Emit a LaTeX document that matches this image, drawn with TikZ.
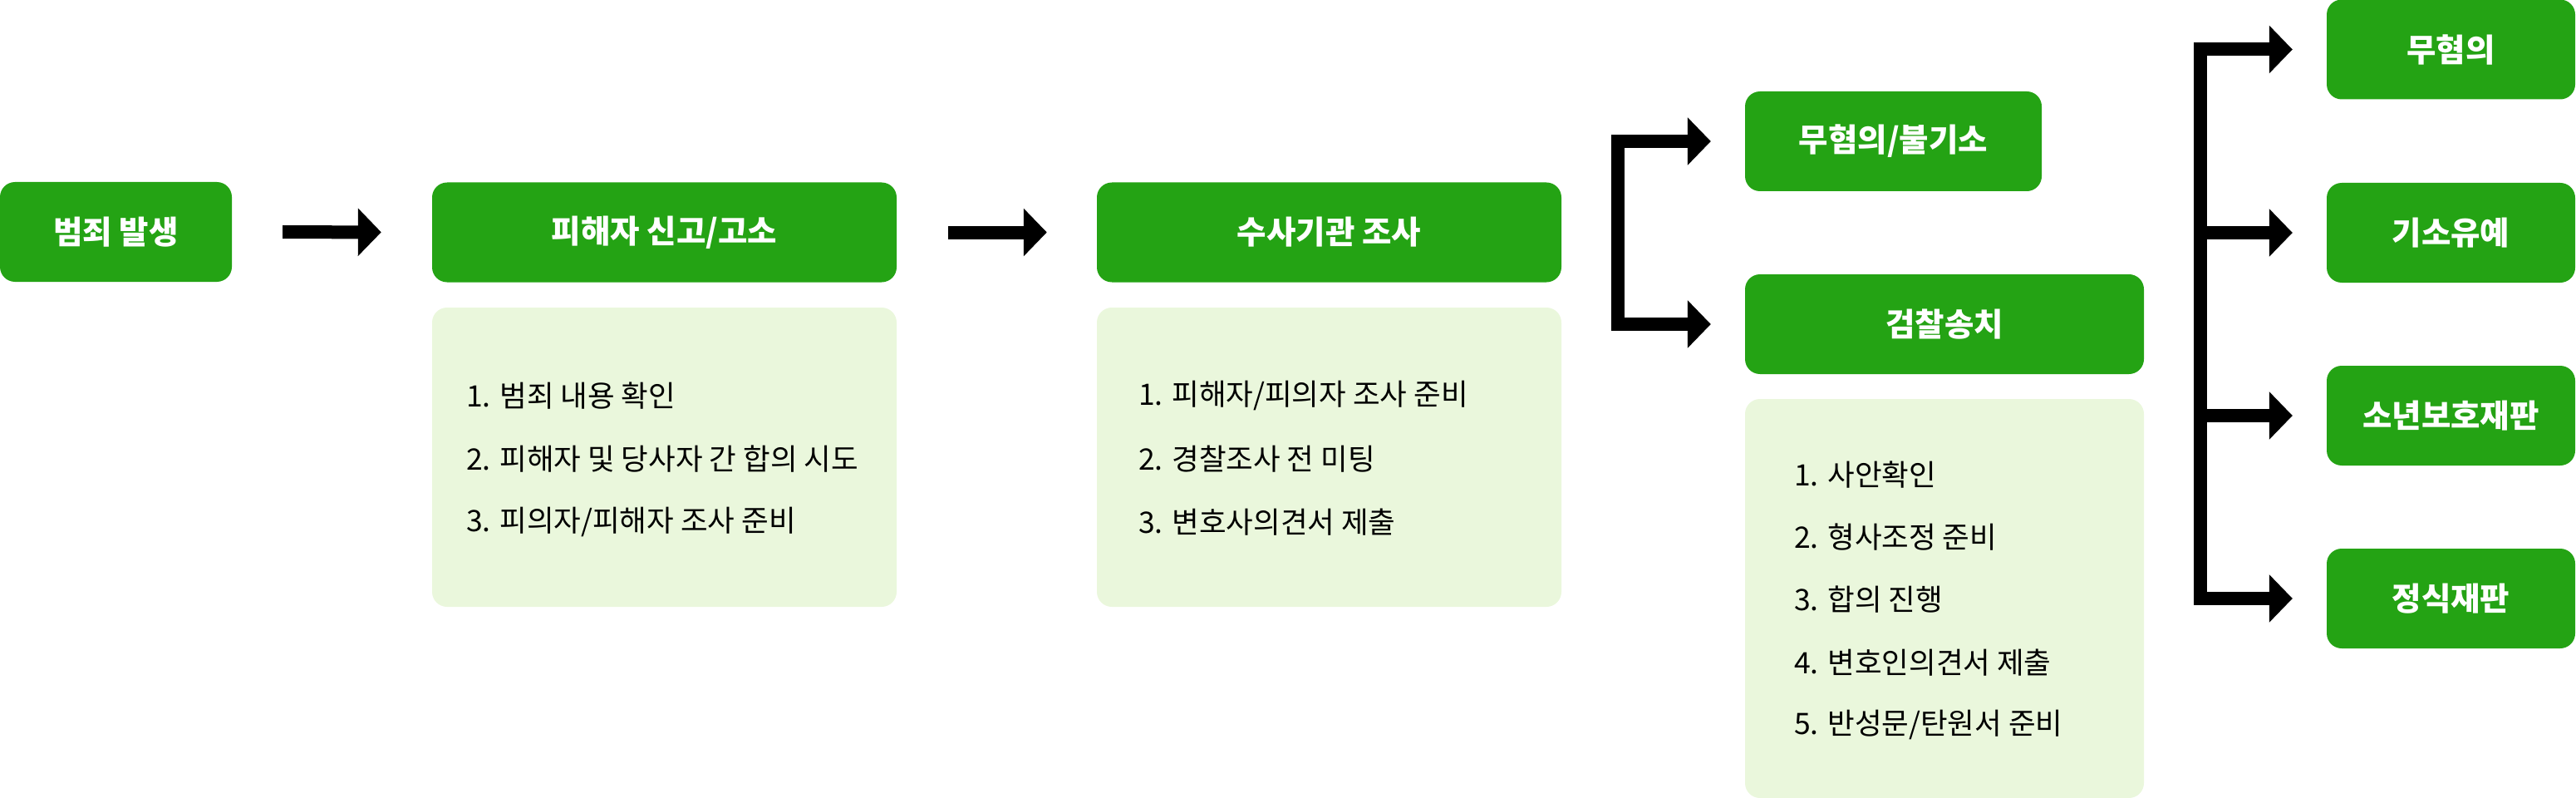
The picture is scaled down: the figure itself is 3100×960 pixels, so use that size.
\documentclass[tikz,border=0pt]{standalone}
\usepackage{fontspec}
\setmainfont{Noto Sans CJK KR}
\usetikzlibrary{arrows.meta}
\definecolor{boxgreen}{HTML}{24A314}
\definecolor{lightgreen}{HTML}{EAF7DC}
\tikzset{
  title/.style={fill=boxgreen, rounded corners=18pt, text=white, font=\fontsize{38.5}{42}\selectfont\bfseries, minimum height=120pt, inner sep=0pt, anchor=center},
  panel/.style={fill=lightgreen, rounded corners=18pt, inner sep=0pt},
  item/.style={anchor=west, inner sep=0pt, text=black, font=\fontsize{35.5}{40}\selectfont},
  flow/.style={line width=16pt, -{Triangle[length=28pt,width=56pt]}},
  fork/.style={line width=16pt, line join=miter, {Triangle[length=28pt,width=56pt]}-{Triangle[length=28pt,width=56pt]}},
}
\begin{document}
\begin{tikzpicture}[x=1pt,y=-1pt]
\useasboundingbox (0,0) rectangle (3100,960);
% green title boxes
\node[title, minimum width=279pt] (crime) at (139.5,279) {범죄 발생};
\node[title, minimum width=559pt] (report) at (799.5,279.5) {피해자 신고/고소};
\node[title, minimum width=559pt] (invest) at (1599.5,279.5) {수사기관 조사};
\node[title, minimum width=357pt] (nohyum) at (2278.5,170) {무혐의/불기소};
\node[title, minimum width=480pt] (chal) at (2340,390) {검찰송치};
\node[title, minimum width=299pt] (mu) at (2949.5,59.5) {무혐의};
\node[title, minimum width=299pt] (giso) at (2949.5,280) {기소유예};
\node[title, minimum width=299pt] (sonyeon) at (2949.5,500) {소년보호재판};
\node[title, minimum width=299pt] (jung) at (2949.5,720) {정식재판};
% light panels
\node[panel, minimum width=559pt, minimum height=360pt] (p1) at (799.5,550) {};
\node[panel, minimum width=559pt, minimum height=360pt] (p2) at (1599.5,550) {};
\node[panel, minimum width=480pt, minimum height=480pt] (p3) at (2340,720) {};
% list items
\node[item] (p1a) at (561,476) {1. 범죄 내용 확인};
\node[item] (p1b) at (561,552) {2. 피해자 및 당사자 간 합의 시도};
\node[item] (p1c) at (561,628) {3. 피의자/피해자 조사 준비};
\node[item] (p2a) at (1370,476) {1. 피해자/피의자 조사 준비};
\node[item] (p2b) at (1370,552) {2. 경찰조사 전 미팅};
\node[item] (p2c) at (1370,628) {3. 변호사의견서 제출};
\node[item] (p3a) at (2159,571) {1. 사안확인};
\node[item] (p3b) at (2159,646) {2. 형사조정 준비};
\node[item] (p3c) at (2159,721) {3. 합의 진행};
\node[item] (p3d) at (2159,797) {4. 변호인의견서 제출};
\node[item] (p3e) at (2159,872) {5. 반성문/탄원서 준비};
% straight arrows
\draw[flow, shorten <=61pt, shorten >=61pt] (crime.east) -- (report.west);
\draw[flow, shorten <=62pt, shorten >=60pt] (report.east) -- (invest.west);
% first fork
\coordinate (f1t) at (1947,170);
\coordinate (f1b) at (1947,390);
\draw[fork, shorten <=41pt, shorten >=41pt] (nohyum.west) -- (f1t) -- (f1b) -- (chal.west);
% second fork
\coordinate (f2t) at (2648,59.5);
\coordinate (f2b) at (2648,720);
\coordinate (f2m1) at (2648,280);
\coordinate (f2m2) at (2648,500);
\draw[fork, shorten <=41pt, shorten >=41pt] (mu.west) -- (f2t) -- (f2b) -- (jung.west);
\draw[flow, shorten >=41pt] (f2m1) -- (giso.west);
\draw[flow, shorten >=41pt] (f2m2) -- (sonyeon.west);
\end{tikzpicture}
\end{document}
